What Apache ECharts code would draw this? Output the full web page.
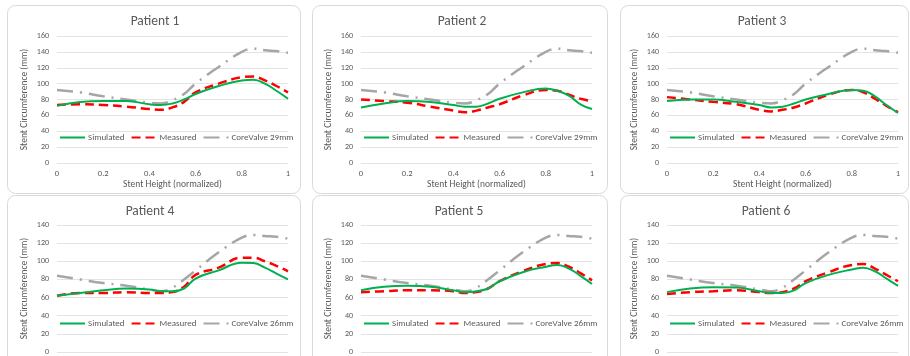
<!DOCTYPE html>
<html><head><meta charset="utf-8">
<script src="https://cdn.jsdelivr.net/npm/echarts@6/dist/echarts.min.js"></script>
<style>html,body{margin:0;padding:0;background:#fff}#c{width:910px;height:356px}</style>
</head><body><div id="c"></div><script>
// Normalized stent height positions (x)
const heights = [0, 0.1, 0.2, 0.3, 0.4, 0.45, 0.5, 0.55, 0.6, 0.7, 0.8, 0.85, 0.9, 0.95, 1];
const xTicks = ['0', '0.2', '0.4', '0.6', '0.8', '1'];
const titles = ['Patient 1', 'Patient 2', 'Patient 3', 'Patient 4', 'Patient 5', 'Patient 6'];
const deviceNames = ['CoreValve 29mm', 'CoreValve 29mm', 'CoreValve 29mm', 'CoreValve 26mm', 'CoreValve 26mm', 'CoreValve 26mm'];
const yMaxes = [160, 160, 160, 140, 140, 140];

const cv29 = [92, 89, 84, 80, 76, 75, 79, 87, 100, 121, 140, 144, 142, 141, 139];
const cv26 = [84, 80, 76, 73, 69, 67, 71, 80, 90, 110, 126, 129, 128, 127, 125];

const p1Sim  = [72, 77, 78, 78, 74, 73, 75, 80, 87, 97, 104, 105, 100, 91, 81];
const p1Meas = [73, 74, 73, 71, 68, 67, 70, 77, 89, 100, 108, 109, 104, 97, 89];
const p2Sim  = [70, 75, 78, 77, 73, 71, 71, 75, 81, 89, 94, 91, 85, 74, 68];
const p2Meas = [80, 78, 76, 71, 66, 64, 66, 70, 74, 85, 92, 91, 86, 81, 78];
const p3Sim  = [78, 80, 80, 77, 73, 70, 71, 75, 80, 87, 92, 91, 84, 73, 63];
const p3Meas = [83, 80, 77, 74, 67, 65, 67, 70, 75, 86, 92, 89, 81, 72, 64];
const p4Sim  = [62, 65, 68, 70, 69, 67, 67, 70, 81, 90, 98.5, 98, 93, 86.5, 80];
const p4Meas = [62, 65, 65, 66, 65, 65, 66, 72, 85, 93, 104, 104, 100, 95, 89];
const p5Sim  = [68, 72, 73, 72, 68, 66, 67, 70, 78, 88, 94, 96, 92, 84, 75];
const p5Meas = [66, 67, 68, 68, 67, 65, 66, 70, 78, 89, 97, 98, 94, 87, 79];
const p6Sim  = [66, 70, 71.5, 71, 67, 65, 65, 68, 76, 85, 91, 93, 89, 81, 73];
const p6Meas = [64, 66, 67, 68, 66, 65, 66, 70, 78, 88, 96, 97, 92, 85, 78];

const simList  = [p1Sim, p2Sim, p3Sim, p4Sim, p5Sim, p6Sim];
const measList = [p1Meas, p2Meas, p3Meas, p4Meas, p5Meas, p6Meas];
const cvList   = [cv29, cv29, cv29, cv26, cv26, cv26];

const FONT = 'Carlito, Lato, sans-serif';
const TXT = '#595959';
const gridLefts = [57, 361, 667];
const gridTops = [36, 225];
const gridHeights = [127, 127];
const titleCenters = [155, 462, 762, 150, 459, 766];
const panelRects = [[7, 312, 620], [5, 195]];
const panelWidths = [293, 295, 288];

const zip = (ys) => heights.map((h, i) => [h, ys[i]]);

const grids = [], xAxes = [], yAxes = [], series = [], legends = [], tts = [], graphics = [];
for (let i = 0; i < 6; i++) {
  const col = i % 3, row = Math.floor(i / 3);
  grids.push({left: gridLefts[col], top: gridTops[row], width: 231, height: gridHeights[row],
    containLabel: false, outerBoundsMode: 'none'});
  xAxes.push({
    type: 'value', gridIndex: i, min: 0, max: 1, interval: 0.2,
    axisLine: {show: false}, axisTick: {show: false}, splitLine: {show: false},
    axisLabel: {color: TXT, fontSize: 8.5, fontFamily: FONT, margin: 6,
      formatter: (v) => xTicks[Math.round(v / 0.2)]},
    name: 'Stent Height (normalized)', nameLocation: 'middle', nameGap: 17,
    nameTextStyle: {color: TXT, fontSize: 9.5, fontFamily: FONT}
  });
  yAxes.push({
    type: 'value', gridIndex: i, min: 0, max: yMaxes[i], interval: 20,
    axisLine: {show: false}, axisTick: {show: false},
    splitLine: {show: true, lineStyle: {color: '#e3e3e3', width: 1}},
    axisLabel: {color: TXT, fontSize: 8, fontFamily: FONT, margin: 8},
    name: 'Stent Circumference (mm)', nameLocation: 'middle', nameGap: 27,
    nameTextStyle: {color: TXT, fontSize: 9.5, fontFamily: FONT}
  });
  series.push({
    name: 'Simulated', type: 'line', xAxisIndex: i, yAxisIndex: i, data: zip(simList[i]),
    smooth: 0.45, symbol: 'none', lineStyle: {color: '#00b050', width: 2}, itemStyle: {color: '#00b050'}, z: 4
  });
  series.push({
    name: 'Measured', type: 'line', xAxisIndex: i, yAxisIndex: i, data: zip(measList[i]),
    smooth: 0.45, symbol: 'none', lineStyle: {color: '#ff0000', width: 2.5, type: [9, 5]}, itemStyle: {color: '#ff0000'}, z: 3
  });
  series.push({
    name: deviceNames[i], type: 'line', xAxisIndex: i, yAxisIndex: i, data: zip(cvList[i]),
    smooth: 0.45, symbol: 'none', lineStyle: {color: '#a6a6a6', width: 2.5, type: [16, 7, 2, 7]}, itemStyle: {color: '#a6a6a6'}, z: 2
  });
  legends.push({
    data: ['Simulated', 'Measured', deviceNames[i]],
    left: gridLefts[col] + 2, top: row === 0 ? 133 : 319, width: 300,
    itemWidth: 25, itemHeight: 10, itemGap: 6, padding: 0, selectedMode: false,
    itemStyle: {opacity: 0},
    textStyle: {color: TXT, fontSize: 9, fontFamily: FONT, padding: [0, 0, 0, -2]}
  });
  tts.push({
    text: titles[i], left: titleCenters[i], textAlign: 'center', top: row === 0 ? 15 : 205, padding: 0,
    textStyle: {color: TXT, fontSize: 13.5, fontWeight: 'normal', fontFamily: FONT}
  });
  graphics.push({
    type: 'rect', z: -10,
    shape: {x: panelRects[0][col] + 0.5, y: panelRects[1][row] + 0.5, width: panelWidths[col], height: row === 0 ? 188 : 200, r: 8},
    style: {fill: '#ffffff', stroke: '#d9d9d9', lineWidth: 1}
  });
}

const chart = echarts.init(document.getElementById('c'), null, {renderer: 'canvas'});
chart.setOption({
  backgroundColor: '#ffffff',
  animation: false,
  title: tts,
  grid: grids,
  xAxis: xAxes,
  yAxis: yAxes,
  legend: legends,
  graphic: graphics,
  series: series
});
</script></body></html>
